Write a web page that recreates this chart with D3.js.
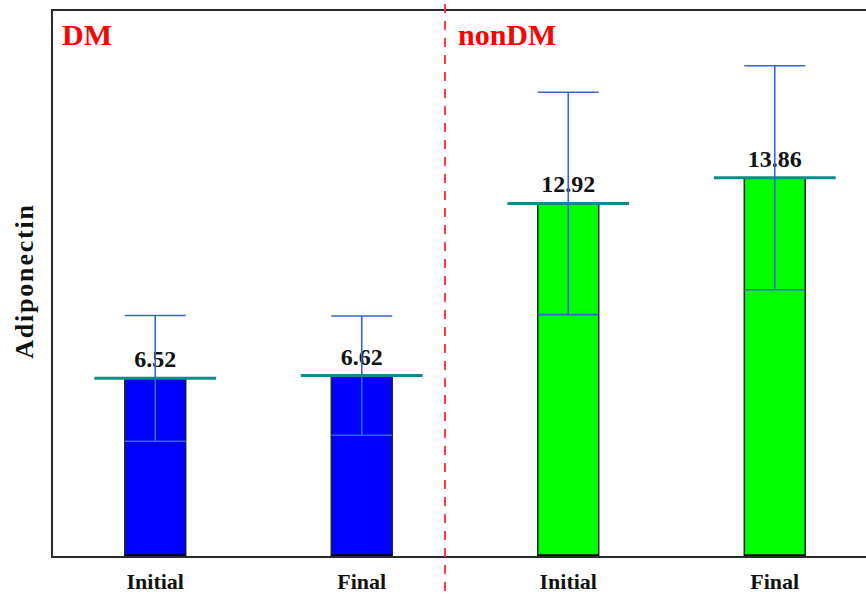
<!DOCTYPE html>
<html>
<head>
<meta charset="utf-8">
<script src="https://cdn.jsdelivr.net/npm/d3@7"></script>
<style>
  html, body { margin: 0; padding: 0; background: #fff; }
  svg { display: block; }
  text { font-family: "Liberation Serif", "Times New Roman", serif; font-weight: bold; }
</style>
</head>
<body>
<svg id="chart" width="866" height="594"></svg>
<script>
// Adiponectin, initial vs final, in diabetic (DM) and non-diabetic groups
const categories = ["DM-Initial", "DM-Final", "nonDM-Initial", "nonDM-Final"];
const tickLabels = ["Initial", "Final", "Initial", "Final"];
const groups = ["DM", "DM", "nonDM", "nonDM"];
const means = [6.52, 6.62, 12.92, 13.86];
const sds = [2.30, 2.18, 4.07, 4.10];
const groupNames = ["DM", "nonDM"];
const yDomain = [0, 20];

const svg = d3.select("#chart");
const margin = { left: 52, top: 10, bottom: 37 };
const W = 866, H = 594;
const plotBottom = H - margin.bottom; // 557

const x = d3.scaleBand()
  .domain(categories)
  .range([margin.left, margin.left + 826])
  .paddingInner(0.705)
  .paddingOuter(0.3525);

const y = d3.scaleLinear().domain(yDomain).range([plotBottom - 0.5, margin.top]);

const fill = d3.scaleOrdinal().domain(groupNames).range(["#0000ff", "#00ff00"]);

const bw = x.bandwidth();
const data = categories.map((c, i) => ({ c, g: groups[i], m: means[i], sd: sds[i] }));

// bars
svg.append("g").selectAll("rect")
  .data(data).join("rect")
  .attr("x", d => x(d.c))
  .attr("y", d => y(d.m))
  .attr("width", bw)
  .attr("height", d => y(0) - y(d.m))
  .attr("fill", d => fill(d.g))
  .attr("stroke", "#222")
  .attr("stroke-width", 1.5);

// thick base edge on bars
svg.append("g").selectAll("line")
  .data(data).join("line")
  .attr("x1", d => x(d.c)).attr("x2", d => x(d.c) + bw)
  .attr("y1", y(0) - 1).attr("y2", y(0) - 1)
  .attr("stroke", "#000").attr("stroke-width", 2.5);

// mean markers (teal)
svg.append("g").selectAll("line")
  .data(data).join("line")
  .attr("x1", d => x(d.c) + bw / 2 - bw)
  .attr("x2", d => x(d.c) + bw / 2 + bw)
  .attr("y1", d => y(d.m)).attr("y2", d => y(d.m))
  .attr("stroke", "#0e8c88").attr("stroke-width", 3);

// value labels
svg.append("g").selectAll("text")
  .data(data).join("text")
  .attr("x", d => x(d.c) + bw / 2)
  .attr("y", d => y(d.m) - 11)
  .attr("text-anchor", "middle")
  .attr("font-size", 24)
  .attr("fill", "#111")
  .text(d => d.m.toFixed(2));

// error bars
const eb = svg.append("g").attr("stroke", "#3366d4").attr("stroke-width", 1.6);
data.forEach(d => {
  const cx = x(d.c) + bw / 2;
  eb.append("line").attr("x1", cx).attr("x2", cx)
    .attr("y1", y(d.m + d.sd)).attr("y2", y(d.m - d.sd));
  eb.append("line").attr("x1", x(d.c)).attr("x2", x(d.c) + bw)
    .attr("y1", y(d.m + d.sd)).attr("y2", y(d.m + d.sd));
  eb.append("line").attr("x1", x(d.c)).attr("x2", x(d.c) + bw)
    .attr("y1", y(d.m - d.sd)).attr("y2", y(d.m - d.sd));
});

// frame (top, left, bottom)
svg.append("path")
  .attr("d", `M${W},${margin.top}H${margin.left}V${plotBottom}H${W}`)
  .attr("fill", "none")
  .attr("stroke", "#2a2a2a")
  .attr("stroke-width", 2);

// group divider
svg.append("line")
  .attr("x1", 445).attr("x2", 445)
  .attr("y1", 4).attr("y2", 591)
  .attr("stroke", "#ff2a2a").attr("stroke-width", 1.8)
  .attr("stroke-dasharray", "9,8");

// group titles
svg.append("g").selectAll("text")
  .data(groupNames).join("text")
  .attr("x", (d, i) => [62, 458][i])
  .attr("y", 45)
  .attr("font-size", 30)
  .attr("fill", "#ff0000")
  .text(d => d);

// x axis labels
const xAxis = d3.axisBottom(x).tickSize(0).tickFormat((d, i) => tickLabels[i]);
const ax = svg.append("g").attr("transform", `translate(0,${plotBottom})`).call(xAxis);
ax.select(".domain").remove();
ax.selectAll("text")
  .attr("y", 32).attr("dy", 0)
  .attr("font-size", 22)
  .attr("font-family", "Liberation Serif, Times New Roman, serif")
  .attr("font-weight", "bold")
  .attr("fill", "#111");

// y axis title
svg.append("text")
  .attr("transform", "translate(33,281) rotate(-90)")
  .attr("text-anchor", "middle")
  .attr("font-size", 26)
  .attr("letter-spacing", 1.8)
  .attr("fill", "#111")
  .text("Adiponectin");
</script>
</body>
</html>
